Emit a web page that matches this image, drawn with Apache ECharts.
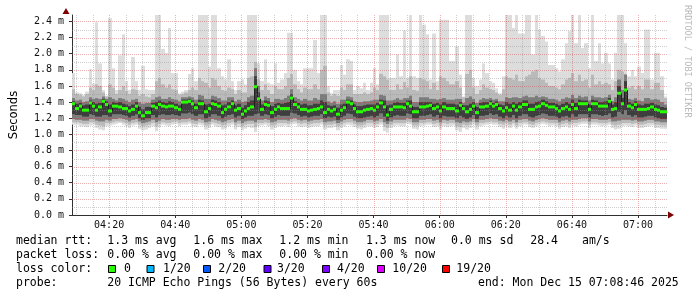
<!DOCTYPE html>
<html><head><meta charset="utf-8">
<script src="https://cdn.jsdelivr.net/npm/echarts@6/dist/echarts.min.js"></script>
<style>html,body{margin:0;padding:0;background:#fff}#c{width:697px;height:297px}</style>
</head><body><div id="c"></div>
<script>
// start of window: 04:08:46, one step per minute, 180 steps
const startMinute = 4 * 60 + 8 + 46 / 60;

// median RTT (ms) per minute
const median = [
1.38,1.32,1.35,1.30,1.30,1.39,1.35,1.30,1.34,1.41,
1.37,1.29,1.35,1.35,1.34,1.32,1.32,1.29,1.31,1.35,
1.27,1.23,1.27,1.27,1.35,1.33,1.37,1.35,1.34,1.35,
1.35,1.33,1.31,1.40,1.40,1.41,1.38,1.33,1.38,1.38,
1.28,1.32,1.38,1.37,1.35,1.27,1.31,1.34,1.38,1.30,
1.32,1.25,1.29,1.32,1.34,1.59,1.44,1.31,1.37,1.36,
1.27,1.31,1.34,1.32,1.32,1.32,1.45,1.37,1.34,1.31,
1.31,1.29,1.30,1.31,1.32,1.34,1.27,1.31,1.29,1.31,
1.25,1.30,1.33,1.40,1.38,1.32,1.28,1.28,1.30,1.31,
1.32,1.30,1.34,1.39,1.34,1.24,1.31,1.34,1.34,1.34,
1.33,1.38,1.35,1.28,1.28,1.34,1.34,1.35,1.36,1.32,
1.34,1.29,1.34,1.32,1.32,1.32,1.29,1.36,1.32,1.28,
1.31,1.35,1.27,1.34,1.34,1.35,1.38,1.35,1.37,1.32,
1.29,1.33,1.30,1.35,1.30,1.34,1.37,1.37,1.31,1.31,
1.34,1.35,1.38,1.36,1.34,1.34,1.32,1.29,1.32,1.34,
1.31,1.37,1.32,1.38,1.38,1.38,1.31,1.38,1.38,1.35,
1.35,1.35,1.41,1.31,1.32,1.51,1.38,1.55,1.35,1.33,
1.37,1.31,1.31,1.31,1.32,1.34,1.31,1.30,1.28,1.28];

// slowest ping per minute
const pingMax = [
1.76,1.52,1.51,1.49,1.53,1.81,1.63,2.39,1.88,1.55,
1.48,2.44,1.82,1.55,1.98,2.24,1.66,1.55,1.96,1.66,
1.55,1.85,1.56,1.55,1.55,2.48,2.48,2.06,2.01,2.32,
1.76,1.76,1.51,1.53,1.55,1.75,1.82,1.66,2.48,2.48,
2.48,1.84,2.48,2.48,1.82,1.72,1.68,1.93,1.66,1.55,
1.66,1.68,1.62,2.48,2.48,2.48,1.88,1.66,1.93,1.64,
1.62,1.88,1.64,1.68,1.76,2.26,2.26,1.80,1.66,1.62,
1.82,1.82,1.82,2.17,1.76,2.48,2.48,1.60,1.51,1.55,
1.55,1.86,1.74,1.93,1.91,1.55,1.60,1.57,1.64,1.55,
1.64,1.82,1.62,2.48,2.48,2.48,1.70,1.70,1.99,1.72,
2.29,1.70,2.48,1.72,1.70,2.48,2.36,2.24,1.68,2.25,
1.66,2.42,2.42,2.42,1.91,1.91,2.09,1.74,1.47,2.48,
2.48,1.70,1.60,1.68,1.88,1.76,1.66,1.64,1.57,1.51,
1.72,2.48,2.48,2.32,2.48,2.25,2.25,2.48,2.48,1.99,
2.48,2.30,2.22,2.15,1.86,1.86,1.82,1.78,1.93,2.13,
2.28,2.48,2.13,2.48,2.07,2.13,1.82,2.48,1.91,2.13,
1.88,2.01,1.88,1.68,2.01,2.48,2.48,2.13,1.72,1.80,
1.72,1.84,1.76,2.30,2.30,1.68,2.01,2.01,1.72,1.47];

// fastest ping per minute
const pingMin = [
1.12,1.12,1.10,1.10,1.09,1.11,1.12,1.08,1.06,1.05,
1.10,1.11,1.12,1.13,1.14,1.12,1.10,1.08,1.11,1.12,
1.07,1.05,1.06,1.08,1.10,1.04,1.09,1.12,1.11,1.10,
1.12,1.13,1.10,1.12,1.12,1.13,1.10,1.09,1.12,1.11,
1.06,1.08,1.12,1.10,1.09,1.06,1.07,1.10,1.12,1.06,
1.09,1.05,1.07,1.09,1.08,1.03,1.10,1.11,1.12,1.10,
1.06,1.08,1.10,1.10,1.11,1.09,1.12,1.13,1.10,1.09,
1.10,1.08,1.09,1.10,1.10,1.12,1.06,1.08,1.08,1.09,
1.05,1.08,1.10,1.12,1.11,1.09,1.07,1.06,1.08,1.10,
1.10,1.08,1.09,1.12,1.04,1.02,1.08,1.10,1.11,1.10,
1.10,1.13,1.12,1.07,1.06,1.10,1.11,1.12,1.12,1.09,
1.10,1.06,1.10,1.09,1.10,1.11,1.05,1.03,1.08,1.06,
1.08,1.12,1.06,1.10,1.11,1.12,1.13,1.12,1.12,1.09,
1.07,1.10,1.08,1.11,1.07,1.10,1.12,1.12,1.09,1.08,
1.10,1.12,1.13,1.12,1.10,1.11,1.10,1.07,1.09,1.10,
1.08,1.11,1.10,1.12,1.13,1.13,1.08,1.12,1.12,1.11,
1.10,1.11,1.12,1.08,1.06,1.07,1.10,1.11,1.10,1.09,
1.11,1.08,1.08,1.09,1.10,1.11,1.08,1.08,1.07,1.07];

// outer smoke band
const smokeHi1 = [
1.56,1.50,1.49,1.47,1.50,1.58,1.55,1.62,1.60,1.52,
1.47,1.62,1.58,1.50,1.55,1.60,1.54,1.50,1.56,1.55,
1.48,1.50,1.47,1.46,1.50,1.66,1.70,1.62,1.58,1.62,
1.56,1.55,1.49,1.50,1.52,1.55,1.58,1.55,1.70,1.66,
1.64,1.58,1.70,1.68,1.60,1.55,1.54,1.58,1.56,1.50,
1.55,1.52,1.52,1.70,1.72,1.90,1.68,1.55,1.62,1.55,
1.50,1.60,1.56,1.56,1.60,1.70,1.75,1.62,1.56,1.52,
1.58,1.56,1.56,1.62,1.56,1.80,1.85,1.52,1.48,1.50,
1.48,1.58,1.55,1.62,1.62,1.50,1.50,1.50,1.52,1.50,
1.52,1.58,1.55,1.75,1.72,1.68,1.55,1.55,1.62,1.56,
1.65,1.58,1.72,1.55,1.54,1.70,1.68,1.66,1.56,1.64,
1.55,1.72,1.70,1.66,1.62,1.62,1.66,1.58,1.46,1.75,
1.80,1.58,1.50,1.55,1.62,1.58,1.56,1.55,1.52,1.49,
1.56,1.72,1.70,1.68,1.74,1.66,1.66,1.72,1.74,1.78,
1.80,1.70,1.68,1.64,1.60,1.60,1.58,1.56,1.62,1.68,
1.70,1.76,1.66,1.74,1.66,1.68,1.58,1.74,1.62,1.66,
1.62,1.64,1.62,1.55,1.66,1.80,1.78,1.75,1.58,1.60,
1.56,1.60,1.56,1.68,1.68,1.56,1.64,1.64,1.55,1.45];
const smokeLo1 = [
1.15,1.15,1.14,1.13,1.13,1.15,1.15,1.12,1.11,1.10,
1.14,1.14,1.15,1.16,1.16,1.15,1.14,1.12,1.14,1.15,
1.12,1.10,1.11,1.12,1.14,1.10,1.13,1.15,1.14,1.14,
1.15,1.16,1.14,1.15,1.15,1.16,1.14,1.13,1.15,1.14,
1.11,1.12,1.15,1.14,1.13,1.11,1.12,1.14,1.15,1.11,
1.13,1.10,1.12,1.13,1.13,1.09,1.14,1.14,1.15,1.14,
1.11,1.12,1.14,1.14,1.14,1.13,1.15,1.16,1.14,1.13,
1.14,1.12,1.13,1.14,1.14,1.15,1.11,1.12,1.12,1.13,
1.10,1.12,1.14,1.15,1.15,1.13,1.11,1.11,1.12,1.14,
1.14,1.12,1.13,1.15,1.10,1.08,1.12,1.14,1.14,1.14,
1.14,1.16,1.15,1.11,1.11,1.14,1.14,1.15,1.15,1.13,
1.14,1.11,1.14,1.13,1.14,1.14,1.10,1.09,1.12,1.11,
1.12,1.15,1.11,1.14,1.14,1.15,1.16,1.15,1.15,1.13,
1.12,1.14,1.12,1.14,1.11,1.14,1.15,1.15,1.13,1.12,
1.14,1.15,1.16,1.15,1.14,1.14,1.14,1.11,1.13,1.14,
1.12,1.14,1.14,1.15,1.16,1.16,1.12,1.15,1.15,1.14,
1.14,1.14,1.15,1.12,1.11,1.12,1.14,1.14,1.14,1.13,
1.14,1.12,1.12,1.13,1.14,1.14,1.12,1.12,1.11,1.11];

// middle smoke band
const smokeHi2 = [
1.45,1.42,1.43,1.40,1.41,1.46,1.44,1.45,1.44,1.47,
1.44,1.46,1.44,1.42,1.45,1.44,1.42,1.40,1.43,1.44,
1.40,1.38,1.39,1.39,1.43,1.46,1.47,1.44,1.44,1.46,
1.44,1.43,1.41,1.46,1.46,1.47,1.46,1.43,1.49,1.48,
1.44,1.44,1.48,1.47,1.45,1.42,1.42,1.46,1.46,1.41,
1.43,1.40,1.41,1.46,1.48,1.82,1.60,1.42,1.47,1.45,
1.40,1.44,1.44,1.43,1.45,1.48,1.56,1.46,1.44,1.42,
1.44,1.42,1.42,1.45,1.43,1.50,1.50,1.41,1.39,1.41,
1.38,1.43,1.43,1.47,1.46,1.41,1.40,1.40,1.41,1.41,
1.42,1.43,1.43,1.49,1.48,1.42,1.42,1.43,1.45,1.43,
1.45,1.45,1.48,1.40,1.40,1.46,1.46,1.46,1.44,1.44,
1.43,1.44,1.45,1.43,1.43,1.43,1.44,1.44,1.39,1.45,
1.47,1.44,1.39,1.43,1.45,1.44,1.45,1.43,1.44,1.41,
1.41,1.46,1.45,1.46,1.46,1.45,1.47,1.48,1.46,1.46,
1.48,1.46,1.47,1.46,1.44,1.44,1.43,1.41,1.44,1.46,
1.45,1.49,1.45,1.48,1.46,1.47,1.42,1.48,1.46,1.46,
1.45,1.46,1.49,1.41,1.46,1.68,1.55,1.74,1.44,1.43,
1.45,1.42,1.41,1.45,1.45,1.43,1.44,1.43,1.40,1.37];
const smokeLo2 = [
1.19,1.18,1.18,1.17,1.17,1.19,1.19,1.17,1.16,1.16,
1.18,1.17,1.19,1.19,1.20,1.19,1.18,1.16,1.18,1.19,
1.16,1.14,1.15,1.16,1.18,1.15,1.17,1.19,1.18,1.18,
1.19,1.19,1.18,1.19,1.19,1.20,1.18,1.17,1.19,1.18,
1.15,1.16,1.19,1.18,1.17,1.15,1.16,1.18,1.19,1.15,
1.17,1.14,1.16,1.17,1.17,1.15,1.18,1.18,1.19,1.18,
1.15,1.16,1.18,1.18,1.18,1.17,1.19,1.20,1.18,1.17,
1.18,1.16,1.17,1.18,1.18,1.19,1.15,1.16,1.16,1.17,
1.14,1.16,1.18,1.19,1.19,1.17,1.15,1.15,1.16,1.18,
1.18,1.16,1.17,1.19,1.15,1.13,1.16,1.18,1.18,1.18,
1.18,1.20,1.19,1.15,1.15,1.18,1.18,1.19,1.19,1.17,
1.18,1.15,1.18,1.17,1.18,1.18,1.15,1.14,1.16,1.15,
1.16,1.19,1.15,1.18,1.18,1.19,1.20,1.19,1.19,1.17,
1.16,1.18,1.16,1.18,1.15,1.18,1.19,1.19,1.17,1.16,
1.18,1.19,1.20,1.19,1.18,1.18,1.18,1.15,1.17,1.18,
1.16,1.18,1.18,1.19,1.20,1.20,1.16,1.19,1.19,1.18,
1.18,1.18,1.19,1.16,1.16,1.17,1.18,1.18,1.18,1.17,
1.18,1.16,1.16,1.17,1.18,1.18,1.16,1.16,1.15,1.15];

// inner smoke band
const smokeHi3 = [
1.41,1.38,1.39,1.36,1.37,1.42,1.40,1.38,1.39,1.44,
1.41,1.37,1.40,1.39,1.40,1.38,1.37,1.35,1.37,1.40,
1.34,1.31,1.34,1.34,1.39,1.40,1.42,1.40,1.39,1.41,
1.40,1.38,1.36,1.43,1.43,1.44,1.42,1.38,1.43,1.42,
1.37,1.38,1.43,1.42,1.40,1.36,1.37,1.40,1.42,1.36,
1.38,1.33,1.36,1.40,1.42,1.72,1.52,1.37,1.42,1.41,
1.35,1.38,1.39,1.38,1.39,1.40,1.50,1.41,1.39,1.37,
1.38,1.36,1.36,1.38,1.38,1.42,1.40,1.36,1.35,1.36,
1.33,1.37,1.38,1.43,1.42,1.37,1.35,1.35,1.36,1.37,
1.37,1.37,1.39,1.43,1.42,1.36,1.37,1.39,1.40,1.39,
1.39,1.42,1.42,1.34,1.34,1.40,1.40,1.40,1.40,1.38,
1.39,1.37,1.40,1.38,1.38,1.38,1.37,1.40,1.36,1.36,
1.38,1.40,1.34,1.39,1.40,1.40,1.42,1.39,1.41,1.37,
1.36,1.40,1.38,1.40,1.38,1.40,1.42,1.42,1.38,1.38,
1.40,1.41,1.43,1.41,1.39,1.39,1.38,1.36,1.38,1.40,
1.38,1.43,1.39,1.43,1.42,1.42,1.37,1.43,1.42,1.40,
1.40,1.41,1.45,1.37,1.40,1.60,1.45,1.66,1.40,1.38,
1.41,1.37,1.36,1.38,1.38,1.39,1.37,1.36,1.34,1.33];
const smokeLo3 = [
1.25,1.24,1.24,1.22,1.22,1.25,1.24,1.22,1.22,1.24,
1.24,1.22,1.25,1.25,1.25,1.24,1.23,1.21,1.23,1.25,
1.20,1.18,1.20,1.20,1.24,1.21,1.24,1.25,1.24,1.24,
1.25,1.24,1.23,1.26,1.26,1.27,1.25,1.23,1.25,1.25,
1.20,1.22,1.25,1.25,1.23,1.20,1.22,1.24,1.25,1.21,
1.23,1.19,1.21,1.23,1.23,1.25,1.26,1.23,1.25,1.24,
1.20,1.22,1.24,1.23,1.23,1.23,1.27,1.26,1.24,1.22,
1.23,1.21,1.22,1.23,1.23,1.25,1.20,1.22,1.21,1.22,
1.18,1.21,1.23,1.26,1.25,1.22,1.20,1.20,1.21,1.22,
1.23,1.21,1.23,1.26,1.22,1.17,1.21,1.23,1.24,1.23,
1.23,1.26,1.25,1.20,1.20,1.23,1.23,1.24,1.25,1.22,
1.24,1.20,1.23,1.22,1.22,1.22,1.20,1.23,1.21,1.19,
1.21,1.24,1.19,1.23,1.23,1.24,1.26,1.24,1.25,1.22,
1.20,1.23,1.21,1.24,1.20,1.23,1.25,1.25,1.22,1.21,
1.23,1.24,1.26,1.25,1.23,1.23,1.22,1.20,1.22,1.23,
1.21,1.25,1.22,1.25,1.25,1.25,1.21,1.25,1.25,1.24,
1.23,1.24,1.26,1.21,1.22,1.28,1.25,1.30,1.24,1.22,
1.24,1.21,1.21,1.22,1.23,1.23,1.21,1.20,1.19,1.19];

// axes
const xMajorMinutes = [260, 280, 300, 320, 340, 360, 380, 400, 420];
const xMinorMinutes = [250,255,265,270,275,285,290,295,305,310,315,325,330,335,345,350,355,365,370,375,385,390,395,405,410,415,425];
const yMajorTicks = [0, 0.2, 0.4, 0.6, 0.8, 1.0, 1.2, 1.4, 1.6, 1.8, 2.0, 2.2, 2.4];
const yMinorTicks = [0.1, 0.3, 0.5, 0.7, 0.9, 1.1, 1.3, 1.5, 1.7, 1.9, 2.1, 2.3];
const yMax = 2.48;

// legend
const legendLabels = ['median rtt:', 'packet loss:', 'loss color:', 'probe:'];
const rttStats = ['1.3 ms avg', '1.6 ms max', '1.2 ms min', '1.3 ms now', '0.0 ms sd', '28.4', 'am/s'];
const lossStats = ['0.00 % avg', '0.00 % max', '0.00 % min', '0.00 % now'];
const lossBins = ['0', '1/20', '2/20', '3/20', '4/20', '10/20', '19/20'];
const lossColors = ['#26ff00', '#00b8ff', '#0059ff', '#5e00ff', '#7e00ff', '#dd00ff', '#ff0000'];
const probeText = '20 ICMP Echo Pings (56 Bytes) every 60s';
const endText = 'end: Mon Dec 15 07:08:46 2025';
const watermark = 'RRDTOOL / TOBI OETIKER';

const MONO = '"DejaVu Sans Mono", monospace';
const pad = n => String(n).padStart(2, '0');

function bandData(lo, hi) { return median.map((_, i) => [startMinute + i, lo[i], hi[i]]); }
function bandRenderer(color) {
  return function (params, api) {
    const x0 = api.value(0);
    const a = api.coord([x0, api.value(2)]);
    const b = api.coord([x0 + 1, api.value(1)]);
    const cs = params.coordSys;
    const xa = Math.round(a[0]), xb = Math.round(b[0]);
    const top = Math.max(cs.y, a[1]);
    return { type: 'rect', shape: { x: xa, y: top, width: xb - xa, height: b[1] - top }, style: { fill: color } };
  };
}
function band(lo, hi, color, z) {
  return { type: 'custom', z: z, silent: true, clip: true, data: bandData(lo, hi), encode: { x: 0, y: [1, 2] }, renderItem: bandRenderer(color) };
}
function gridV(values, color) {
  return { type: 'custom', z: 6, silent: true, data: values.map(v => [v, 0]),
    renderItem: function (params, api) {
      const p = api.coord([api.value(0), 0]);
      const cs = params.coordSys; const x = Math.round(p[0]) + 0.5;
      return { type: 'line', shape: { x1: x, y1: cs.y, x2: x, y2: cs.y + cs.height }, style: { stroke: color, lineWidth: 1, lineDash: [1, 1] } };
    } };
}
function gridH(values, color) {
  return { type: 'custom', z: 6, silent: true, data: values.map(v => [startMinute, v]),
    renderItem: function (params, api) {
      const p = api.coord([startMinute, api.value(1)]);
      const cs = params.coordSys; const y = Math.round(p[1]) + 0.5;
      return { type: 'line', shape: { x1: cs.x, y1: y, x2: cs.x + cs.width, y2: y }, style: { stroke: color, lineWidth: 1, lineDash: [1, 1] } };
    } };
}

const chart = echarts.init(document.getElementById('c'), null, { renderer: 'canvas' });

const graphics = [];
function txt(x, y, s, extra) {
  graphics.push(Object.assign({ type: 'text', x: x, y: y, silent: true,
    style: { text: s, font: '11.5px ' + MONO, fill: '#000', textAlign: 'left', textVerticalAlign: 'middle' } }, extra || {}));
}
const rowY = [241, 255.5, 269, 283.3];
legendLabels.forEach((s, i) => txt(16, rowY[i], s));
const rttX = [107.3, 193.3, 279.3, 366, 451, 530.3, 582];
rttStats.forEach((s, i) => txt(rttX[i], rowY[0], s));
const lossX = [107.3, 193.3, 279.3, 366];
lossStats.forEach((s, i) => txt(lossX[i], rowY[1], s));
const boxX = [108, 146.5, 203, 263.5, 322, 377, 442];
const binX = [124, 163, 218.3, 277, 337, 392.3, 456.3];
lossBins.forEach((s, i) => {
  graphics.push({ type: 'rect', silent: true, shape: { x: boxX[i] + 0.5, y: 265.5, width: 7, height: 7 }, style: { fill: lossColors[i], stroke: '#000', lineWidth: 1 } });
  txt(binX[i], rowY[2], s);
});
txt(107.3, rowY[3], probeText);
txt(478, rowY[3], endText);
graphics.push({ type: 'text', x: 687, y: 5, rotation: -Math.PI / 2, silent: true,
  style: { text: watermark, font: '8.5px ' + MONO, fill: '#b8b8b8', textAlign: 'left', textVerticalAlign: 'middle' } });
// axis arrows
graphics.push({ type: 'polygon', silent: true, shape: { points: [[62.5, 14], [69.5, 14], [66, 8]] }, style: { fill: '#7f0000' } });
graphics.push({ type: 'polygon', silent: true, shape: { points: [[668, 211.5], [668, 218.5], [674, 215]] }, style: { fill: '#7f0000' } });

chart.setOption({
  animation: false,
  backgroundColor: '#ffffff',
  grid: { left: 66, top: 15, width: 601, height: 200, containLabel: false },
  xAxis: {
    type: 'value', min: startMinute, max: startMinute + 180,
    axisLine: { show: true, onZero: false, lineStyle: { color: '#303030', width: 1 } },
    axisTick: { show: true, customValues: xMajorMinutes, length: 3, lineStyle: { color: '#303030' } },
    axisLabel: { customValues: xMajorMinutes, margin: 5, color: '#111', fontFamily: MONO, fontSize: 10,
      formatter: v => pad(Math.floor(Math.round(v) / 60)) + ':' + pad(Math.round(v) % 60) },
    splitLine: { show: false }
  },
  yAxis: {
    type: 'value', min: 0, max: yMax,
    name: 'Seconds', nameLocation: 'middle', nameGap: 52,
    nameTextStyle: { fontFamily: '"DejaVu Sans", sans-serif', fontSize: 11.5, color: '#000' },
    axisLine: { show: true, lineStyle: { color: '#303030', width: 1 } },
    axisTick: { show: true, customValues: yMajorTicks, length: 3, lineStyle: { color: '#303030' } },
    axisLabel: { customValues: yMajorTicks, margin: 8, color: '#111', fontFamily: MONO, fontSize: 10,
      formatter: v => v.toFixed(1) + ' m' },
    splitLine: { show: false }
  },
  graphic: graphics,
  series: [
    band(pingMin, pingMax, '#dddddd', 1),
    band(smokeLo1, smokeHi1, '#bababa', 2),
    band(smokeLo2, smokeHi2, '#7c7c7c', 3),
    band(smokeLo3, smokeHi3, '#3e3e3e', 4),
    gridV(xMinorMinutes, 'rgba(140,140,140,0.42)'),
    gridH(yMinorTicks, 'rgba(140,140,140,0.42)'),
    gridV(xMajorMinutes, 'rgba(200,60,60,0.4)'),
    gridH(yMajorTicks.slice(1), 'rgba(200,60,60,0.4)'),
    {
      type: 'custom', z: 8, silent: true, clip: true,
      data: median.map((v, i) => [startMinute + i, v, i > 0 ? median[i - 1] : v]),
      encode: { x: 0, y: 1 },
      renderItem: function (params, api) {
        const x0 = api.value(0), v = api.value(1), pv = api.value(2);
        const a = api.coord([x0, v]), b = api.coord([x0 + 1, v]);
        const xa = Math.round(a[0]), xb = Math.round(b[0]);
        const children = [];
        if (params.dataIndex > 0 && pv !== v) {
          const p = api.coord([x0, pv]);
          children.push({ type: 'line', shape: { x1: xa + 0.5, y1: p[1], x2: xa + 0.5, y2: a[1] }, style: { stroke: '#202020', lineWidth: 1 } });
        }
        children.push({ type: 'rect', shape: { x: xa, y: a[1] - 1.5, width: xb - xa, height: 3 }, style: { fill: lossColors[0] } });
        return { type: 'group', children: children };
      }
    }
  ]
});
</script>
</body></html>
